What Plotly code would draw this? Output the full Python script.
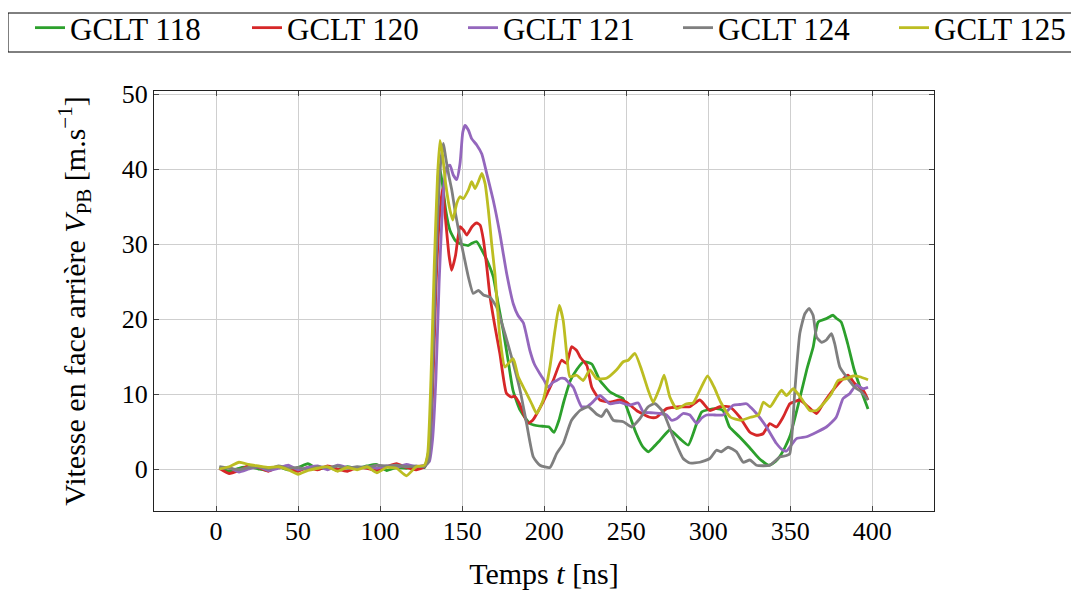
import plotly.graph_objects as go

# baseline samples (before shock arrival), shared time grid
t_base = [2, 8, 14, 20, 26, 32, 38, 44, 50, 56, 62, 68, 74, 80, 86, 92, 98, 104, 110, 116, 122, 127]

# GCLT 118
t_118 = t_base + [130, 132, 134, 136, 138, 140, 142.6, 145.7, 148.7, 151, 153.8, 156, 158.9, 162, 166, 169,
                  172, 175, 178, 181, 185, 191, 195, 199, 203, 206, 209, 212, 216, 220, 224, 229, 234, 240,
                  244, 248, 252, 256, 260, 263.4, 267, 270.5, 276.6, 282.7, 287.8, 292.9, 296, 300, 305, 309,
                  313, 319, 325, 331, 337, 341, 344, 347, 350, 355, 360, 364, 367, 372, 376, 378, 381, 385,
                  389, 394, 397.4]
v_118 = [0.2, -0.3, 0.1, 0.3, 0, -0.2, 0.3, -0.1, 0.2, 0.7, 0, 0.2, -0.1, 0.3, 0.1, 0.4, 0.6, -0.2, 0.2, 0.1, 0.3, 0.2] + \
        [3, 14, 30, 40.5, 38, 34.5, 31.8, 30.5, 30.05, 29.9, 29.8, 30.1, 30.3, 29.2, 27.4, 25.6,
         22, 18.5, 14.5, 10.5, 8, 6.1, 5.8, 5.7, 5.6, 4.9, 6.5, 9, 11.8, 13.3, 14.3, 14, 11.8, 10.3,
         9.8, 9.4, 7.2, 4.8, 3, 2.3, 3, 3.8, 5.2, 4.05, 3.2, 6.05, 7.6, 7.9, 8.05, 7.8,
         5.6, 4.3, 2.9, 1.4, 0.5, 1.0, 1.8, 3, 4.5, 8.7, 13.2, 16.3, 19.6, 20.05, 20.5, 20.1, 19.6, 16.7,
         13.2, 10, 8.0]

# GCLT 120
t_120 = t_base + [130, 132, 134, 136, 138, 140, 142, 143.6, 146, 148.7, 151, 152.8, 156, 158.9, 161, 163,
                  165, 167, 170, 173, 177, 180, 182, 185, 190, 193, 199, 205.5, 210.6, 213.7, 216.7, 219.8,
                  222, 226, 229, 234, 240, 246, 250.2, 256.3, 264.4, 268.5, 274.6, 282.7, 288.8, 294.9, 301,
                  307, 313, 319.3, 325.4, 329.4, 333.4, 337.5, 341.6, 345.6, 349.7, 351.7, 355.8, 359.9, 366,
                  370, 376, 381.2, 385.2, 389.3, 394.4, 397.4]
v_120 = [0.1, -0.6, -0.2, 0.4, 0.2, -0.3, 0.3, 0.1, -0.3, 0.2, -0.1, 0.4, 0, -0.3, 0.2, 0.1, -0.2, 0.3, 0.7, 0.2, -0.1, 0.3] + \
        [2, 10, 24, 33, 37.4, 33, 28.5, 26.5, 28.5, 32.3, 31.8, 31.2, 32.3, 32.8, 32.5, 30.5,
         27, 23, 19, 15.4, 10.1, 9.6, 9.7, 8.7, 6.1, 6.5, 8.8, 11.8, 14.5, 14.1, 16.3, 15.8,
         14.9, 13.8, 10.9, 9.2, 8.9, 9.2, 8.9, 7.8, 6.9, 6.9, 8.05, 8.3, 8.3, 9.2, 7.8,
         8.3, 8.3, 6.9, 4.9, 4.5, 4.7, 6.05, 5.6, 6.9, 8.7, 8.9, 9.2, 8.5, 7.4,
         8.7, 10.5, 11.8, 12.5, 11.4, 10.5, 9.2]

# GCLT 121
t_121 = t_base + [130, 132, 134, 136, 137.6, 139, 140.6, 142.6, 144.6, 146.7, 148.7, 150.4, 151.8, 153.8,
                  155.8, 158.9, 162, 165, 169, 173, 177.2, 181.2, 184, 187.3, 191.3, 194, 197.4, 200, 202.5,
                  205, 207.6, 210, 212.7, 215, 217.7, 220.8, 222.8, 226, 229, 234, 240, 246, 252, 257.3,
                  260.4, 265, 270.5, 274.6, 277.6, 280.7, 284.7, 288.8, 292.9, 296, 299, 304, 309, 315.2,
                  319, 323.3, 326, 329.4, 335.5, 341.6, 345.6, 347.7, 353.8, 359.9, 366, 372, 378, 382.2,
                  386.2, 390.3, 394.4, 397.4]
v_121 = [0, 0.2, -0.4, 0, 0.3, -0.2, 0.1, 0.5, -0.1, 0.2, 0.4, -0.1, 0.5, 0.2, 0.1, 0.3, 0.1, 0.4, 0.2, 0.6, 0.3, 0.5] + \
        [1, 4, 12, 25, 33, 38, 40.3, 40.5, 39.2, 38.6, 40.7, 44.9, 45.8, 45.2,
         44.05, 43.2, 42, 39.4, 35.8, 31.4, 26, 22, 20.5, 19.5, 15.8, 14, 12.7, 11.8, 10.9,
         11.5, 11.8, 12.1, 12.05, 11.5, 10.9, 9.2, 8.3, 8.3, 8.8, 9.8, 8.7, 8.9, 8.5, 8.8,
         7.6, 7.5, 7.4, 7.2, 6.5, 6.7, 7.4, 7.2, 6.05, 6.8, 7.2, 7.2, 7.2, 8.5,
         8.6, 8.7, 8.2, 7.4, 5.6, 3.4, 2.5, 2.4, 4.05, 4.3, 4.9, 5.6, 6.9, 9.4,
         10.05, 11.2, 10.7, 10.9]

# GCLT 124
t_124 = t_base + [129.5, 131, 133, 135, 137, 138.6, 140, 142, 143.7, 146, 148.7, 151, 153.8, 156.8, 159.9,
                  163, 167, 171, 176.1, 181.2, 185.3, 189.3, 193.4, 197.4, 203.5, 207.6, 211.6, 216.7, 221.8,
                  226.9, 232, 235, 238, 242.1, 248.2, 253.3, 258.3, 263.4, 267.5, 272.5, 278.6, 284.7, 288.8,
                  294.9, 301, 305, 308, 312.1, 317.2, 321.3, 325.4, 329.4, 337.5, 343.6, 347.7, 349.7, 352.8,
                  355.8, 358.9, 361.5, 363.9, 366, 369, 372, 375.1, 377.1, 380.2, 384.2, 389.3, 393.3, 397.4]
v_124 = [0.3, 0.1, -0.1, 0.2, 0.3, 0, 0.4, 0.1, 0.2, -0.1, 0.3, 0.2, 0.4, 0.1, 0.3, 0.2, 0.5, 0.4, 0.5, 0.3, 0.4, 0.3] + \
        [1, 6, 20, 33, 41, 43.4, 41.5, 39, 37.2, 34, 30.9, 28.5, 25.6, 23.4, 23.8,
         23.2, 22.9, 21.6, 18.05, 14.05, 10.5, 6.05, 1.6, 0.5, 0.2, 2.05, 3.4, 6.5, 7.8,
         8.3, 7.3, 7.0, 7.9, 6.5, 6.3, 5.6, 6.7, 8.3, 8.7, 7.6, 4.3, 1.4, 0.8,
         0.9, 1.4, 2.5, 2.3, 2.9, 2.3, 0.9, 1.2, 0.5, 0.5, 1.6, 1.8, 2.05, 10.5,
         18.05, 20.7, 21.4, 20.5, 17.6, 16.9, 17.2, 18.05, 16.7, 13.6, 12.3, 10.9, 10.3, 9.2]

# GCLT 125
t_125 = t_base + [129, 131, 133, 135, 136.5, 138, 140, 142.6, 144.3, 146.7, 148.7, 150.7, 153.8, 155.8, 157.9,
                  159.9, 162, 164, 166, 168, 170, 173, 176.1, 178.1, 181.2, 184.2, 188.3, 192.4, 195.4, 199.4,
                  203.5, 206.6, 209.2, 211.6, 213.7, 215.7, 219.8, 223.8, 227.9, 232, 238, 244, 248.2, 251.2,
                  255.3, 259.4, 263.4, 266.4, 270.5, 273.1, 276.6, 280.7, 286.8, 290.8, 294.9, 299.6, 303.6,
                  307.6, 313.6, 319.7, 325.8, 330.6, 333.6, 337.7, 341.7, 344.7, 347.7, 351.8, 356.8, 361.9,
                  366, 371, 375.1, 379.1, 384.2, 388.3, 392.3, 397.4]
v_125 = [0, 0.3, 0.9, 0.6, 0.4, 0.2, 0.3, -0.1, -0.7, -0.2, 0.1, 0.3, -0.3, 0.2, -0.1, 0.3, -0.5, 0.2, 0.1, -0.9, 0.3, 0.5] + \
        [2, 12, 27, 39, 43.8, 42, 38, 34.5, 33.2, 35.4, 36.3, 36.05, 37.2, 38.3, 37.4,
         38.3, 39.4, 38.05, 34.5, 30.05, 26, 17.6, 13.6, 14.05, 14.7, 12.3, 10.5, 8.7, 7.4, 9.2,
         13.6, 18.5, 21.8, 19.8, 15.4, 12.3, 12.5, 11.8, 13.2, 12.05, 12.1, 13.2, 14.3, 14.5,
         15.4, 13.2, 10.5, 8.9, 10.9, 12.5, 9.6, 8.05, 8.7, 8.8, 10.5, 12.4, 10.9,
         8.9, 6.9, 6.5, 6.9, 7.2, 8.9, 8.3, 9.6, 10.5, 9.8, 10.7, 9.4, 7.8,
         7.8, 8.9, 10.05, 11.8, 12.05, 12.4, 12.3, 11.9]

series = [
    ("GCLT 118", t_118, v_118, "#2ca02c"),
    ("GCLT 120", t_120, v_120, "#d62728"),
    ("GCLT 121", t_121, v_121, "#9467bd"),
    ("GCLT 124", t_124, v_124, "#7f7f7f"),
    ("GCLT 125", t_125, v_125, "#bcbd22"),
]

x_ticks = [0, 50, 100, 150, 200, 250, 300, 350, 400]
y_ticks = [0, 10, 20, 30, 40, 50]

serif = "Liberation Serif, Times New Roman, serif"

W, H = 1079, 594
L, T, PW, PH = 146, 83, 780, 420   # plot area (the page adds an 8px body margin)
R, B = W - L - PW, H - T - PH

# one single-entry legend per series so the row keeps its spacing
legend_left = [22, 239, 455, 670, 886]
legend_mid = 20

fig = go.Figure()
for i, (name, t, v, color) in enumerate(series):
    fig.add_trace(go.Scatter(
        x=t, y=v, mode="lines", name=name,
        legend="legend" if i == 0 else f"legend{i + 1}",
        line=dict(color=color, width=2.8, shape="spline", smoothing=0.5),
    ))

axis_common = dict(
    showline=True, linecolor="#222", linewidth=1, mirror="allticks",
    ticks="inside", ticklen=5, tickcolor="#444",
    showgrid=True, gridcolor="#cfcfcf", gridwidth=1, zeroline=False,
    tickfont=dict(family=serif, size=26, color="black"),
)

legends = {}
for i, lx in enumerate(legend_left):
    key = "legend" if i == 0 else f"legend{i + 1}"
    legends[key] = dict(
        orientation="h", xref="container", yref="container",
        x=lx / W, y=1 - legend_mid / H, xanchor="left", yanchor="middle",
        borderwidth=0, bgcolor="rgba(0,0,0,0)",
        font=dict(family=serif, size=31, color="black"),
    )

fig.update_layout(
    width=W, height=H,
    margin=dict(l=L, r=R, t=T, b=B, autoexpand=False),
    paper_bgcolor="white", plot_bgcolor="white",
    font=dict(family=serif, color="black"),
    xaxis=dict(range=[-37.8, 437.6], tickvals=x_ticks, ticklabelstandoff=-3,
               title=dict(text="Temps <i>t</i> [ns]", font=dict(family=serif, size=30), standoff=17),
               **axis_common),
    yaxis=dict(range=[-5.6, 50.4], tickvals=y_ticks,
               title=dict(text="Vitesse en face arrière <i>V</i><sub>PB</sub> [m.s<sup>−1</sup>]",
                          font=dict(family=serif, size=30), standoff=27),
               **axis_common),
    showlegend=True,
    **legends,
)

# frame around the legend row, runs off the right edge as in the original
box_top, box_bottom = 5, 44
fig.add_shape(type="rect", xref="paper", yref="paper",
              x0=(0 - L) / PW, x1=(W + 20 - L) / PW,
              y0=(H - box_bottom - B) / PH, y1=(H - box_top - B) / PH,
              line=dict(color="black", width=1), fillcolor="rgba(0,0,0,0)", layer="above")

fig.write_html("out.html")
